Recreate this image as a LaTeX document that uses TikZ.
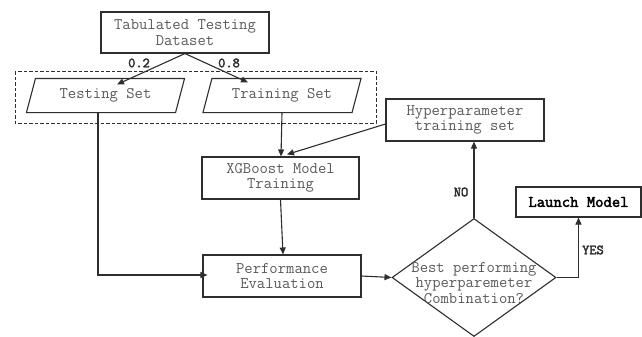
\documentclass[tikz,border=0pt]{standalone}
\usepackage{fontspec}
\newfontfamily\lbfont[FakeBold=2.5]{Latin Modern Mono}
\usetikzlibrary{arrows.meta,calc,shapes.geometric}
\definecolor{ln}{HTML}{2E2E2E}
\definecolor{tx}{HTML}{5A5A5A}
\begin{document}
\begin{tikzpicture}[x=1pt,y=-1pt,
 box/.style={draw=ln,line width=1.1pt,rectangle,inner sep=0pt,align=center,text=tx,font=\ttfamily\fontsize{16.2}{15.5}\selectfont},
 arr/.style={draw=ln,line width=1.1pt,-{Triangle[length=7pt,width=6pt]}},
 lbl/.style={font=\lbfont\fontsize{14}{14}\selectfont,text=ln}]
\useasboundingbox[fill=white] (0,0) rectangle (642,337);
% nodes
\node[box,minimum width=168,minimum height=41] (tab) at (185,32.5) {Tabulated Testing\\Dataset};
\node[box,draw=none,minimum width=148,minimum height=33] (test) at (105.5,95.5) {Testing Set};
\node[box,draw=none,minimum width=148,minimum height=33] (train) at (282,95.5) {Training Set};
\node[box,minimum width=157,minimum height=42] (xgb) at (280.5,178) {XGBoost Model\\Training};
\node[box,minimum width=158,minimum height=42] (perf) at (282,276) {Performance\\Evaluation};
\node[box,minimum width=158,minimum height=42] (hyp) at (465,120) {Hyperparameter\\training set};
\node[box,minimum width=125,minimum height=30,text=black,font=\lbfont\fontsize{16.2}{15.5}\selectfont] (launch) at (578.5,202) {Launch Model};
\node[draw=ln,diamond,minimum width=164,minimum height=118,inner sep=0pt,line width=1.1pt] (dec) at (474,277.5) {};
\node[align=center,text=tx,font=\ttfamily\fontsize{16.2}{15.5}\selectfont] (dectxt) at (474,283) {Best performing\\hyperparemeter\\Combination?};
% parallelograms
\foreach \n in {test,train}{
 \draw[ln,line width=1.1pt] ($(\n.north west)+(4.5,0)$) -- ($(\n.north east)+(4.5,0)$) -- ($(\n.south east)+(-4.5,0)$) -- ($(\n.south west)+(-4.5,0)$) -- cycle;
}
% dashed group
\draw[ln,line width=1pt,dash pattern=on 3.5pt off 2pt] (15,71) rectangle (376,123);
% connectors
\draw[arr] (tab.south) -- ($(test.north)+(11.5,6)$);
\draw[arr] (tab.south) -- ($(train.north)+(-34,4)$);
\node[lbl] (l02) at (139,63) {0.2};
\node[lbl] (l08) at (229,63) {0.8};
\draw[arr] ($(test.south)+(-7.5,0)$) |- ($(perf.west)+(5,-1)$);
\draw[arr] (train.south) -- ($(xgb.north)+(0.5,0)$);
\draw[arr] ($(hyp.west)+(0,4)$) -- ($(xgb.north)+(6.5,-2)$);
\draw[arr] (xgb.south) -- ($(perf.north)+(1,0)$);
\draw[arr] (perf.east) -- (dec.west);
\draw[arr] (dec.north) -- (dec.north |- hyp.south);
\draw[arr] (dec.east) -| (launch.south);
\node[lbl] (no) at (461,192) {NO};
\node[lbl] (yes) at (593,250) {YES};
\end{tikzpicture}
\end{document}
